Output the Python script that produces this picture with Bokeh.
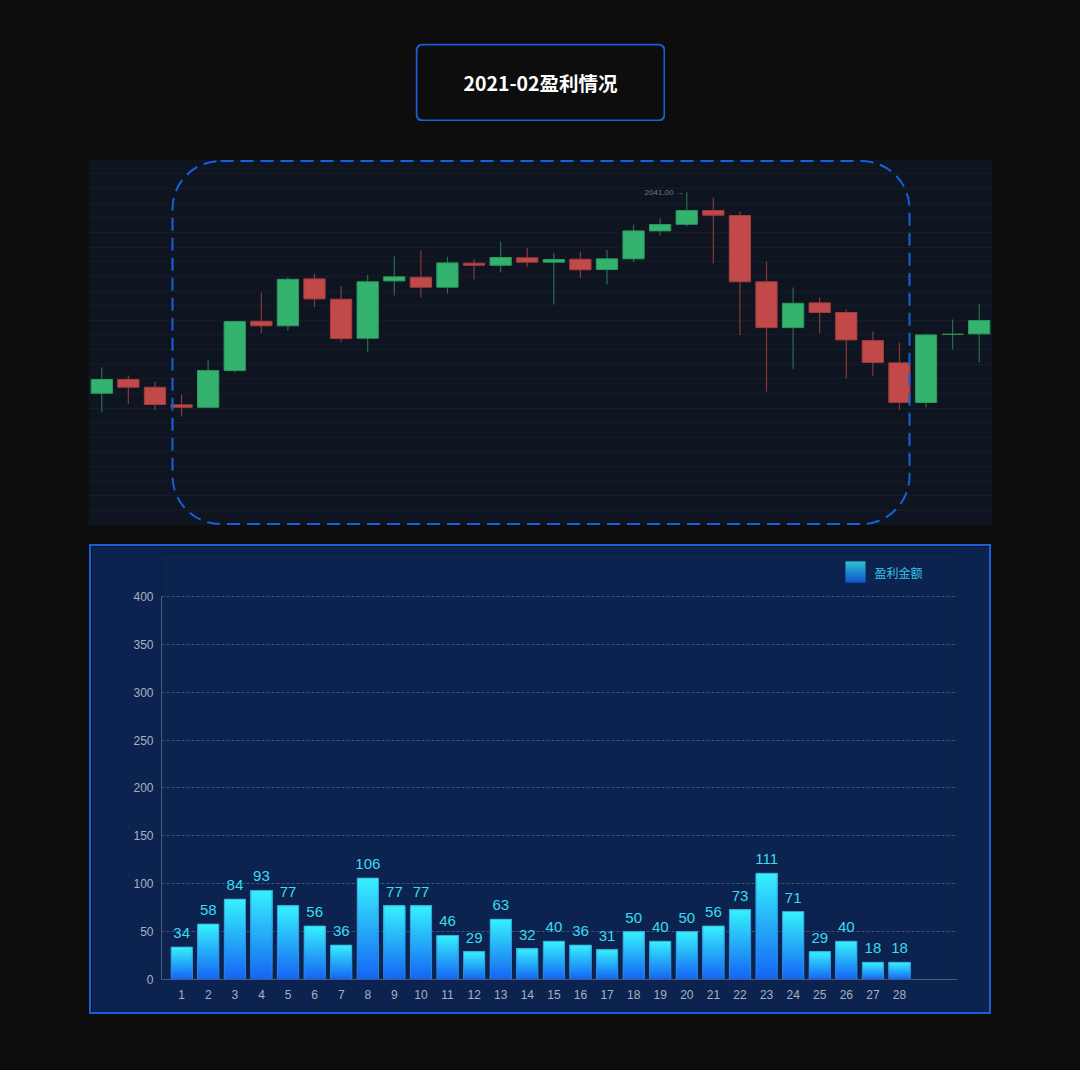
import numpy as np
from bokeh.plotting import figure
from bokeh.models import (Range1d, FixedTicker, BoxAnnotation, Label, Grid, Spacer,
                          ColumnDataSource, GlobalInlineStyleSheet)
from bokeh.layouts import column, row
from bokeh.embed import file_html
from bokeh.resources import INLINE
from bokeh.core.properties import value

TITLE = "2021-02盈利情况"

# ---------------- candlestick data (OHLC) ----------------
k_open = [1903.6, 1913.0, 1907.7, 1895.7, 1894.0, 1919.1, 1952.8, 1949.7, 1981.8, 1967.9,
          1941.2, 1980.4, 1982.9, 1976.1, 1992.5, 1991.1, 1996.2, 1993.2, 1995.2, 1988.2,
          1995.5, 2014.6, 2019.1, 2028.5, 2025.1, 1979.8, 1948.5, 1965.4, 1958.8, 1939.6,
          1924.4, 1897.3, 1943.9, 1944.2]
k_high = [1921.2, 1915.7, 1911.6, 1902.7, 1926.4, 1953.1, 1972.4, 1982.9, 1985.4, 1977.0,
          1984.5, 1997.3, 2001.2, 1996.9, 1995.2, 2007.3, 2003.0, 1999.6, 2000.5, 2001.6,
          2018.9, 2023.2, 2041.0, 2037.4, 2028.0, 1993.6, 1975.9, 1969.0, 1960.8, 1945.8,
          1938.3, 1944.2, 1954.0, 1964.7]
k_low = [1890.6, 1896.4, 1892.0, 1887.7, 1893.6, 1918.2, 1944.6, 1946.5, 1962.4, 1938.5,
         1931.6, 1970.6, 1969.0, 1971.6, 1981.3, 1986.3, 1989.7, 1964.2, 1982.2, 1977.9,
         1993.2, 2011.4, 2017.8, 1992.3, 1943.3, 1904.8, 1920.3, 1944.4, 1913.7, 1915.5,
         1892.3, 1893.8, 1933.7, 1924.6]
k_close = [1913.0, 1907.7, 1895.9, 1894.0, 1919.1, 1952.6, 1949.7, 1981.5, 1968.1, 1941.0,
           1979.8, 1983.2, 1976.1, 1992.7, 1991.1, 1996.4, 1993.2, 1995.0, 1988.0, 1995.5,
           2014.6, 2018.9, 2028.5, 2025.3, 1979.8, 1948.5, 1965.1, 1958.8, 1940.1, 1924.6,
           1897.3, 1943.5, 1943.9, 1953.3]

# ---------------- bar chart data ----------------
days = [str(i) for i in range(1, 29)]
profit = [34, 58, 84, 93, 77, 56, 36, 106, 77, 77, 46, 29, 63, 32, 40, 36, 31, 50, 40, 50,
          56, 73, 111, 71, 29, 40, 18, 18]
SERIES_NAME = "盈利金额"
y_ticks = list(range(0, 401, 50))

PAGE_BG = "#0d0d0d"
BLUE = "#1a5ed8"
CJK = "Noto Sans CJK SC"
LAT = "Liberation Sans"

# ---------------- title ----------------
tp = figure(width=250, height=78, x_range=Range1d(0, 250), y_range=Range1d(0, 78),
            x_axis_location=None, y_axis_location=None, min_border=0,
            toolbar_location=None, output_backend="svg",
            background_fill_color=PAGE_BG, border_fill_color=PAGE_BG,
            outline_line_color=None)
tp.center = []
tp.add_layout(BoxAnnotation(left=1, right=249, bottom=1, top=77,
                            left_units="screen", right_units="screen",
                            top_units="screen", bottom_units="screen",
                            fill_alpha=0, line_color=BLUE, line_alpha=1, line_width=2,
                            border_radius=6))
tp.add_layout(Label(x=125, y=39, x_units="screen", y_units="screen", text=TITLE,
                    text_align="center", text_baseline="middle", text_font=CJK,
                    text_font_style="bold", text_font_size="19.5px", text_color="#ffffff"))

# ---------------- candlestick ----------------
n = len(k_open)
idx = list(range(n))
rise = [c >= o for o, c in zip(k_open, k_close)]
src = ColumnDataSource(dict(
    x=idx, o=k_open, h=k_high, l=k_low, c=k_close,
    top=[max(o, c) for o, c in zip(k_open, k_close)],
    bottom=[min(o, c) for o, c in zip(k_open, k_close)],
    fill=["#33b36d" if r else "#c14949" for r in rise],
    edge=["#2b9a5e" if r else "#a33d3d" for r in rise],
    wick=["#23704a" if r else "#853a3a" for r in rise],
))

kp = figure(width=904, height=366, x_range=Range1d(-0.5, n - 0.5),
            y_range=Range1d(1813.2, 2063.4),
            x_axis_location=None, y_axis_location=None, min_border=0,
            toolbar_location=None, output_backend="svg",
            background_fill_color="#0f1520", border_fill_color=PAGE_BG,
            outline_line_color=None)
kp.center = []
kp.add_layout(Grid(dimension=1, ticker=FixedTicker(ticks=list(np.arange(1823.5, 2060, 10))),
                   grid_line_color="#151b27", grid_line_width=1))
kp.segment(x0="x", y0="l", x1="x", y1="h", line_color="wick", line_width=1.2, source=src)
kp.vbar(x="x", width=0.8, top="top", bottom="bottom", fill_color="fill",
        line_color="edge", line_width=1, source=src)
imax = int(np.argmax(k_high))
kp.text(x=[imax], y=[k_high[imax]], text=[f"{k_high[imax]:.2f} →"],
        text_align="right", text_baseline="middle", x_offset=-3,
        text_font=value(LAT), text_font_size="8px", text_color="#6f7582")
kp.add_layout(BoxAnnotation(left=84, right=821, bottom=1.5, top=364.5,
                            left_units="screen", right_units="screen",
                            top_units="screen", bottom_units="screen",
                            fill_alpha=0, line_color="#1660dc", line_alpha=1, line_width=2,
                            line_dash="13 7", border_radius=48))

# ---------------- bar chart ----------------
def lerp(t):
    a = np.array([0x15, 0x65, 0xf5])
    b = np.array([0x36, 0xf0, 0xfc])
    c = (a + (b - a) * t).round().astype(int)
    return "#%02x%02x%02x" % tuple(c)

xs = list(range(1, len(profit) + 1))
N = 40
sx, sb, st, sc = [], [], [], []
for k in range(N):
    for x, v in zip(xs, profit):
        sx.append(x)
        sb.append(v * k / N)
        st.append(v)
        sc.append(lerp(k / (N - 1)))

bp = figure(width=902, height=470, x_range=Range1d(0.24, 30.18), y_range=Range1d(0, 445.95),
            toolbar_location=None, output_backend="svg",
            background_fill_color="#0c2350", border_fill_color="#0c2350",
            outline_line_color=None,
            min_border_left=70, min_border_right=36, min_border_top=6, min_border_bottom=37,
            styles={"border": "2px solid " + BLUE})
bp.vbar(x=sx, bottom=sb, top=st, width=0.8, fill_color=sc, line_color=None)
bp.vbar(x=xs, top=profit, width=0.8, fill_alpha=0, line_color="#3a8ccc", line_alpha=0.8,
        line_width=1)
bp.text(x=xs, y=profit, text=[str(v) for v in profit], text_align="center",
        text_baseline="alphabetic", y_offset=-14, text_font=value(LAT), text_font_size="15px",
        text_color="#3adcf2")

bp.yaxis.ticker = FixedTicker(ticks=y_ticks)
bp.yaxis.bounds = (0, 400)
bp.xaxis.ticker = FixedTicker(ticks=xs)
bp.xaxis.major_label_overrides = {x: d for x, d in zip(xs, days)}
for ax in (bp.xaxis, bp.yaxis):
    ax.axis_line_color = "#4b5a7c"
    ax.major_tick_out = 0
    ax.major_tick_in = 0
    ax.minor_tick_out = 0
    ax.minor_tick_in = 0
    ax.major_label_text_color = "#a9b1c0"
    ax.major_label_text_font = LAT
    ax.major_label_text_font_size = "12px"
bp.yaxis.major_label_standoff = 8
bp.xaxis.major_label_standoff = 10
bp.xgrid.visible = False
bp.ygrid.ticker = FixedTicker(ticks=y_ticks)
bp.ygrid.grid_line_color = "#3c5282"
bp.ygrid.grid_line_dash = "3 2"

# legend (gradient swatch + label)
for k in range(21):
    bp.add_layout(BoxAnnotation(left=684, right=704, bottom=397 + k, top=398 + k,
                                left_units="screen", right_units="screen",
                                top_units="screen", bottom_units="screen",
                                fill_color=lerp(k / 20), fill_alpha=1, line_color=None))
bp.add_layout(Label(x=713, y=407.5, x_units="screen", y_units="screen", text=SERIES_NAME,
                    text_baseline="middle", text_font=CJK, text_font_size="12px",
                    text_color="#38c2e8"))

root = column(
    Spacer(width=10, height=43),
    row(Spacer(width=415, height=78), tp),
    Spacer(width=10, height=38),
    row(Spacer(width=88, height=366), kp),
    Spacer(width=10, height=19),
    row(Spacer(width=89, height=470), bp),
    stylesheets=[GlobalInlineStyleSheet(css="body{background-color:#0d0d0d;}")])
p = root
open("out.html", "w").write(file_html(p, INLINE))
